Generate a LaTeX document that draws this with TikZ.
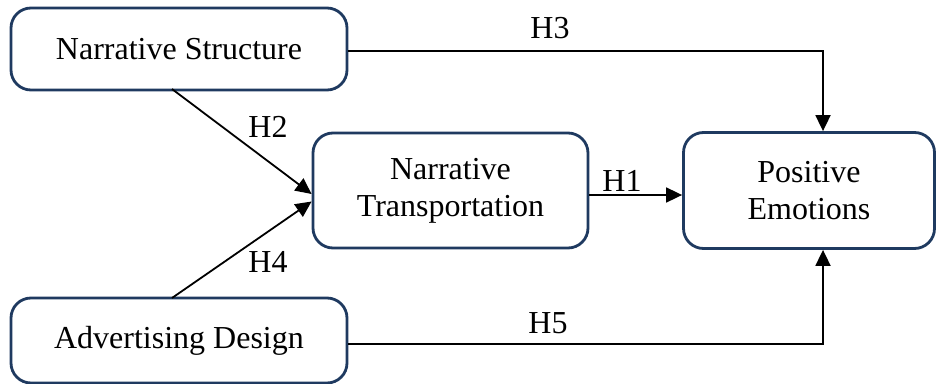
\documentclass[tikz,border=0pt]{standalone}
\usepackage{fontspec}
\setmainfont{Liberation Serif}
\usetikzlibrary{arrows.meta}
\definecolor{boxblue}{HTML}{1F3A60}
\begin{document}
\begin{tikzpicture}[x=1pt,y=-1pt,
  box/.style={draw=boxblue,line width=2.8pt,rounded corners=20pt,fill=white,
    align=center,inner sep=0pt,font=\fontsize{32}{37}\selectfont},
  arr/.style={line width=1.8pt,-{Triangle[length=16pt,width=15pt]}},
  lab/.style={font=\fontsize{32}{37}\selectfont,inner sep=0pt}]
\useasboundingbox (0,0) rectangle (937,383);
\node[box,minimum width=336pt,minimum height=82pt] (NS) at (179,49) {Narrative Structure};
\node[box,minimum width=336pt,minimum height=85pt] (AD) at (179,340.5) {Advertising Design};
\node[box,minimum width=275pt,minimum height=115pt] (NT) at (450.5,190.5) {Narrative\\Transportation};
\node[box,minimum width=251pt,minimum height=116pt] (PE) at (809,190.5) {Positive\\Emotions};
\coordinate (s2) at (172,89);
\coordinate (s4) at (172,298);
\draw[arr] (s2) -- ([yshift=-3.5pt]NT.west);
\draw[arr] (s4) -- ([yshift=-11pt]NT.west);
\draw[arr] ([yshift=-4.5pt]NT.east) -- ([yshift=-4.5pt]PE.west);
\draw[arr] ([yshift=-2pt]NS.east) -| ([xshift=14pt]PE.north);
\draw[arr] ([yshift=-3.5pt]AD.east) -| ([xshift=14pt]PE.south);
\node[lab] (H3) at (550,28) {H3};
\node[lab] (H2) at (268,127) {H2};
\node[lab] (H4) at (268,262) {H4};
\node[lab] (H1) at (622,181) {H1};
\node[lab] (H5) at (548,323) {H5};
\end{tikzpicture}
\end{document}
